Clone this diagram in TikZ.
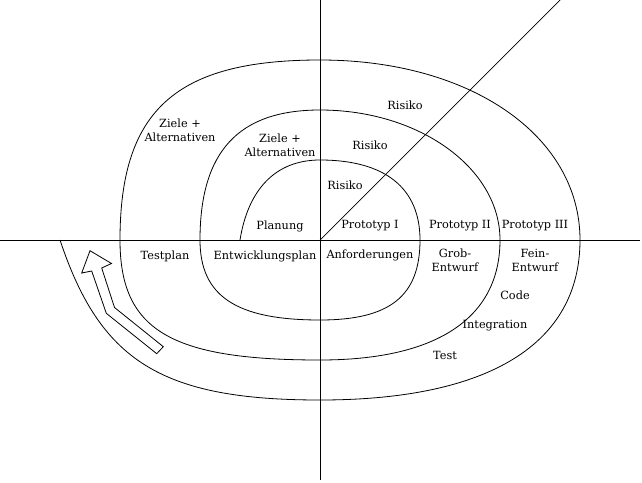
\documentclass[tikz,border=0pt]{standalone}
\usepackage{fontspec}
\setmainfont{DejaVu Serif}
\begin{document}
\begin{tikzpicture}[x=1pt,y=-1pt,
  spiral/.style={line width=0.8pt},
  axis/.style={line width=1pt},
  lbl/.style={font=\fontsize{11.3}{14}\selectfont, align=center, inner sep=0pt}]
\useasboundingbox (0,0) rectangle (642,482);
\coordinate (O) at (320,240);
\coordinate (W) at (0,240);
\coordinate (E) at (640,240);
\coordinate (N) at (320,0);
\coordinate (S) at (320,480);
\coordinate (NE) at (560,0);
\draw[axis] (W) -- (E);
\draw[axis] (N) -- (S);
\draw[line width=0.7pt] (O) -- (NE);
% spiral
\draw[spiral] (240,240) .. controls (248,190) and (275,160) .. (320,160)
 .. controls (385,160) and (420,188) .. (420,240)
 .. controls (420,296) and (390,320) .. (320,320)
 .. controls (236,320) and (200,296) .. (200,240)
 .. controls (200,152) and (238,110) .. (320,110)
 .. controls (419,110) and (500,168) .. (500,240)
 .. controls (500,318) and (437,360) .. (320,360)
 .. controls (170,360) and (120,330) .. (120,240)
 .. controls (120,110) and (176,60) .. (320,60)
 .. controls (471,60) and (580,136) .. (580,240)
 .. controls (580,344) and (489,400) .. (320,400)
 .. controls (160,400) and (100,360) .. (60,240);
% hollow arrow
\draw[line width=0.8pt, line join=miter] (90,250.7) -- (111.5,263.5) -- (101.7,268) -- (114.5,307.5) -- (163.3,346.7) -- (156.7,353.7) -- (106.3,313.3) -- (91.7,271) -- (81.7,273) -- cycle;
% labels
\node[lbl] (r3) at (405,105) {Risiko};
\node[lbl] (r2) at (370,145) {Risiko};
\node[lbl] (r1) at (345,185) {Risiko};
\node[lbl] (z2) at (180,130) {Ziele +\\Alternativen};
\node[lbl] (z1) at (280,145) {Ziele +\\Alternativen};
\node[lbl] (pl) at (280,226) {Planung};
\node[lbl] (p1) at (370,226) {Prototyp I};
\node[lbl] (p2) at (460,226) {Prototyp II};
\node[lbl] (p3) at (535,226) {Prototyp III};
\node[lbl] (tp) at (165,256) {Testplan};
\node[lbl] (ep) at (265,256) {Entwicklungsplan};
\node[lbl] (an) at (370,255) {Anforderungen};
\node[lbl] (ge) at (455,260) {Grob-\\Entwurf};
\node[lbl] (fe) at (535,260) {Fein-\\Entwurf};
\node[lbl] (co) at (515,295) {Code};
\node[lbl] (in) at (495,326) {Integration};
\node[lbl] (te) at (445,355) {Test};
\end{tikzpicture}
\end{document}
